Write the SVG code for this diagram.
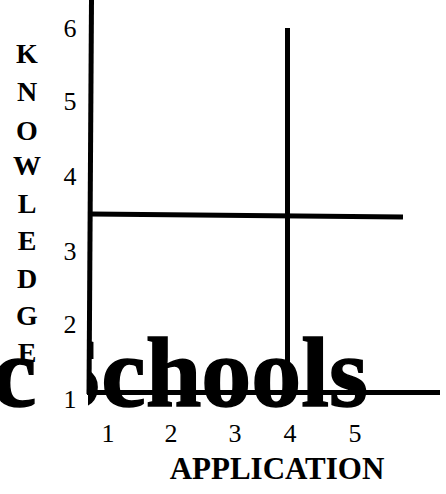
<svg xmlns="http://www.w3.org/2000/svg" width="446" height="494" viewBox="0 0 446 494">
<style>
.ttl{font-family:"Liberation Serif","Times New Roman",serif;font-weight:bold;font-size:100px;fill:#000;stroke:#000;stroke-width:1.5}
.lbl{font-family:"Liberation Serif","Times New Roman",serif;font-weight:bold;font-size:28px;fill:#000;text-anchor:middle}
.num{font-family:"Liberation Serif","Times New Roman",serif;font-size:26px;fill:#000;text-anchor:middle}
.ax{font-family:"Liberation Serif","Times New Roman",serif;font-weight:bold;font-size:31px;fill:#000}
.ln{stroke:#000;stroke-width:5;fill:none}
</style>
<rect width="446" height="494" fill="#fff"/>
<g id="title">
<text class="ttl" x="-8" y="406">c</text>
<text class="ttl" x="368" y="406" text-anchor="end">Schools</text>
</g>
<rect id="mask" x="35" y="290" width="53" height="130" fill="#fff"/>
<g id="connectors">
<line class="ln" x1="91.5" y1="0" x2="89" y2="394"/>
<line class="ln" x1="91" y1="214" x2="403" y2="217"/>
<line class="ln" x1="287.5" y1="28" x2="287.5" y2="393"/>
<line class="ln" x1="87" y1="392.5" x2="440" y2="392.5"/>
</g>
<g id="y-label">
<text class="lbl" x="27" y="63">K</text>
<text class="lbl" x="27" y="101">N</text>
<text class="lbl" x="27" y="140">O</text>
<text class="lbl" x="27" y="175">W</text>
<text class="lbl" x="27" y="213">L</text>
<text class="lbl" x="27" y="250">E</text>
<text class="lbl" x="27" y="288">D</text>
<text class="lbl" x="27" y="325">G</text>
<text class="lbl" x="27" y="362">E</text>
</g>
<g id="y-ticks">
<text class="num" x="70" y="37">6</text>
<text class="num" x="70" y="110">5</text>
<text class="num" x="70" y="185">4</text>
<text class="num" x="70" y="260">3</text>
<text class="num" x="70" y="333">2</text>
<text class="num" x="70" y="408">1</text>
</g>
<g id="x-ticks">
<text class="num" x="108" y="442">1</text>
<text class="num" x="171" y="442">2</text>
<text class="num" x="235" y="442">3</text>
<text class="num" x="290" y="442">4</text>
<text class="num" x="355" y="442">5</text>
</g>
<g id="x-label">
<text class="ax" x="277" y="479" text-anchor="middle">APPLICATION</text>
</g>
</svg>
